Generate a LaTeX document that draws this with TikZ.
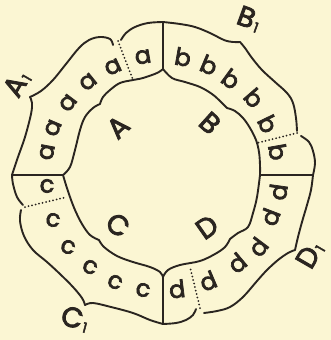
\documentclass[tikz,border=0pt]{standalone}
\usepackage{fontspec}
\setmainfont{Poppins}[FakeBold=3]
\definecolor{paper}{HTML}{FBF6D3}
\definecolor{ink}{HTML}{2A2520}
\newcommand\capsize{\fontsize{28}{28}\selectfont}
\newcommand\lowsize{\fontsize{24}{24}\selectfont}
\newcommand\subsize{\fontsize{14}{14}\selectfont}
\newcommand\lowone{\kern1.5pt\raisebox{-2pt}{\subsize 1}}

\begin{document}
\begin{tikzpicture}[x=1pt,y=-1pt,color=ink,text=ink,
  rim/.style={line width=1.9pt,line cap=round,line join=round},
  cut/.style={line width=1.4pt},
  dots/.style={line width=2pt,line cap=round,dash pattern=on 0pt off 3.6pt},
  low/.style={font=\lowsize,inner sep=0pt},
  big/.style={font=\capsize,inner sep=0pt}]
  \fill[paper] (0,0) rectangle (331,340);
  \useasboundingbox (0,0) rectangle (331,340);

  % the four cuts through the ring
  \coordinate (Nout) at (163,22);  \coordinate (Nin) at (163,69);
  \coordinate (Wout) at (12,175);  \coordinate (Win) at (63,175);
  \coordinate (Eout) at (313,175); \coordinate (Ein) at (260,175);
  \coordinate (Sout) at (163,324); \coordinate (Sin) at (163,277);
  \draw[cut] (Nout) -- (Nin);
  \draw[cut] (Wout) -- (Win);
  \draw[cut] (Eout) -- (Ein);
  \draw[cut] (Sout) -- (Sin);

  % outer rim, quadrant A
  \draw[rim] plot[smooth,tension=.6] coordinates
    {(163,22) (148,23) (135,27) (126,33) (121,40)};
  \draw[rim] plot[smooth,tension=.6] coordinates
    {(113,45) (110,39) (100,37) (89,40) (79,48) (66,64) (53,80) (41,91) (30,97)};
  \draw[rim] plot[smooth,tension=.6] coordinates
    {(30,97) (32,103) (31,114) (25,137) (18,157) (12,175)};
  % outer rim, quadrant C
  \draw[rim] plot[smooth,tension=.6] coordinates
    {(12,175) (13,184) (17,197) (23,205)};
  \draw[rim] plot[smooth,tension=.6] coordinates
    {(21,210) (20,221) (24,236) (33,250) (47,262) (60,274) (73,287) (82,298) (85,305)};
  \draw[rim] plot[smooth,tension=.6] coordinates
    {(85,305) (93,303) (111,307) (133,313) (150,320) (163,324)};
  % outer rim, quadrant D
  \draw[rim] plot[smooth,tension=.6] coordinates
    {(163,324) (176,323) (186,320) (193,315) (196,309)};
  \draw[rim] plot[smooth,tension=.6] coordinates
    {(204,313) (217,311) (230,307) (243,297) (257,281) (267,270) (278,260) (288,253) (295,250)};
  \draw[rim] plot[smooth,tension=.6] coordinates
    {(295,250) (298,237) (302,222) (307,205) (311,190) (313,175)};
  % outer rim, quadrant B
  \draw[rim] plot[smooth,tension=.6] coordinates
    {(313,175) (315,163) (313,151) (309,142) (301,136)};
  \draw[rim] plot[smooth,tension=.6] coordinates
    {(297,131) (296,118) (293,103) (287,93) (275,82) (262,70) (252,58) (245,48) (240,42)};
  \draw[rim] plot[smooth,tension=.6] coordinates
    {(240,42) (233,42) (224,40) (210,33) (195,27) (180,24) (163,22)};

  % inner rim
  \draw[rim] plot[smooth,tension=.6] coordinates
    {(163,69) (157,73) (143,78) (133,80) (120,83) (110,90) (103,97) (100,104)};
  \draw[rim] plot[smooth,tension=.6] coordinates
    {(100,104) (93,108) (85,117) (80,130) (75,150) (70,167) (63,175)};
  \draw[rim] plot[smooth,tension=.6] coordinates
    {(63,175) (66,185) (70,197) (75,210) (82,224) (90,235) (99,240)};
  \draw[rim] plot[smooth,tension=.6] coordinates
    {(99,240) (104,247) (117,256) (133,262) (150,267) (160,272) (163,277)};
  \draw[rim] plot[smooth,tension=.6] coordinates
    {(163,277) (168,270) (180,265) (200,261) (215,254) (225,247) (230,239)};
  \draw[rim] plot[smooth,tension=.6] coordinates
    {(230,239) (238,233) (248,227) (253,213) (257,197) (260,175)};
  \draw[rim] plot[smooth,tension=.6] coordinates
    {(260,175) (260,165) (259,152) (256,140) (250,128) (243,118) (235,111) (227,108)};
  \draw[rim] plot[smooth,tension=.6] coordinates
    {(227,108) (220,101) (212,94) (200,87) (185,82) (172,78) (163,69)};

  % dotted partitions
  \draw[dots] (118,41) -- (133,80);
  \draw[dots] (297,133) -- (257,143);
  \draw[dots] (25,207) -- (67,197);
  \draw[dots] (200,308) -- (190,267);

  % letters in the ring
  \node[low,rotate=79] (a1) at (47,152) {a};
  \node[low,rotate=67] (a2) at (53,128) {a};
  \node[low,rotate=53] (a3) at (68,103) {a};
  \node[low,rotate=39] (a4) at (88,82) {a};
  \node[low,rotate=25] (a5) at (113,67) {a};
  \node[low,rotate=10] (a6) at (143,57) {a};
  \node[low,rotate=-10] (b1) at (183,57) {b};
  \node[low,rotate=-23] (b2) at (209,65) {b};
  \node[low,rotate=-36] (b3) at (231,79) {b};
  \node[low,rotate=-49] (b4) at (254,98) {b};
  \node[low,rotate=-64] (b5) at (268,124) {b};
  \node[low,rotate=-80] (b6) at (278,152) {b};
  \node[low,rotate=82] (d1) at (278,192) {d};
  \node[low,rotate=69] (d2) at (270,217) {d};
  \node[low,rotate=53] (d3) at (258,247) {d};
  \node[low,rotate=40] (d4) at (237,263) {d};
  \node[low,rotate=23] (d5) at (208,281) {d};
  \node[low,rotate=7] (d6) at (177,289) {d};
  \node[low,rotate=0] (c1) at (47,186) {c};
  \node[low,rotate=-10] (c2) at (53,220) {c};
  \node[low,rotate=-20] (c3) at (68,247) {c};
  \node[low,rotate=-25] (c4) at (90,267) {c};
  \node[low,rotate=-25] (c5) at (115,282) {c};
  \node[low,rotate=-10] (c6) at (143,290) {c};

  % quadrant names
  \node[big,rotate=43] (qA) at (118,127) {A};
  \node[big,rotate=-42] (qB) at (210,123) {B};
  \node[big,rotate=-35] (qC) at (118,225) {C};
  \node[big,rotate=35] (qD) at (207,227) {D};

  % outside labels
  \node[big,rotate=60] (A1) at (17,84) {A\lowone};
  \node[big,rotate=-20] (B1) at (249,19) {B\lowone};
  \node[big,rotate=-15] (C1) at (75,319) {C\lowone};
  \node[big,rotate=60] (D1) at (310,255) {D\lowone};
\end{tikzpicture}
\end{document}
